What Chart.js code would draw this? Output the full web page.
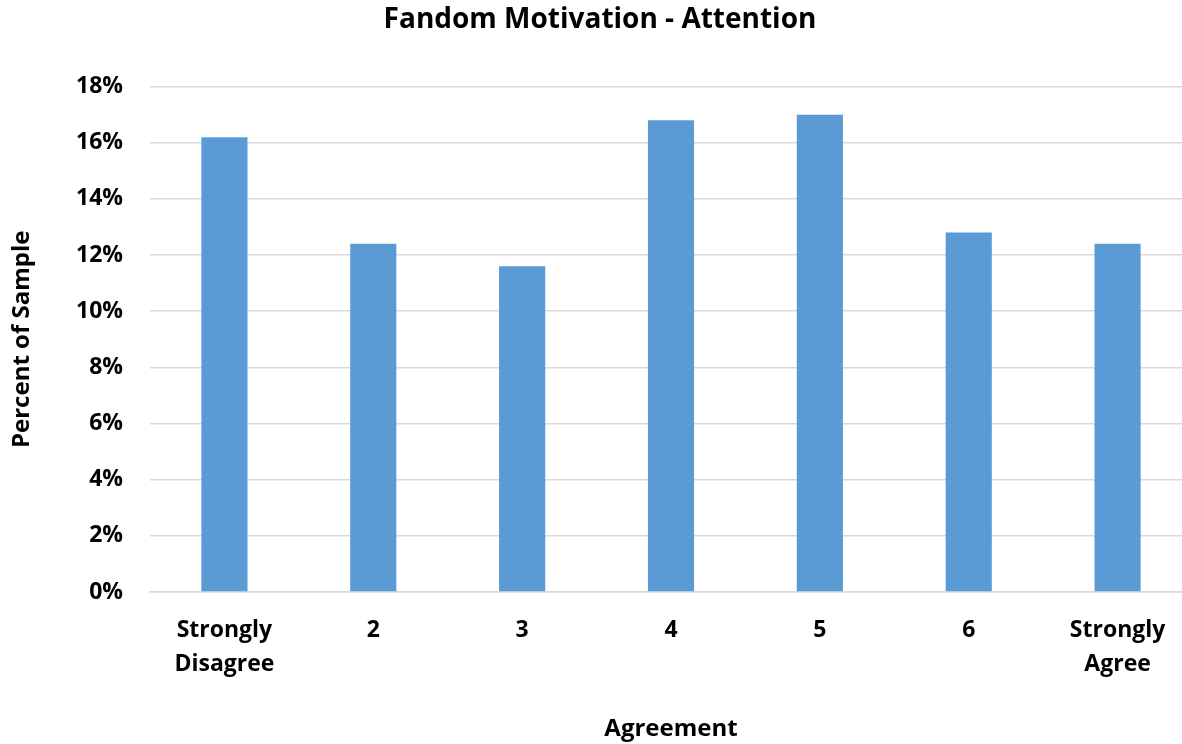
<!DOCTYPE html>
<html>
<head>
<meta charset="utf-8">
<script src="https://cdn.jsdelivr.net/npm/chart.js@4/dist/chart.umd.min.js"></script>
<style>
html,body{margin:0;padding:0;background:#fff;overflow:hidden;}
#wrap{width:1182px;height:744px;overflow:hidden;}
</style>
</head>
<body>
<div id="wrap"><canvas id="c" width="1192" height="744"></canvas></div>
<script>
const categories = [["Strongly","Disagree"], "2", "3", "4", "5", "6", ["Strongly","Agree"]];
const percentOfSample = [16.2, 12.4, 11.6, 16.8, 17.0, 12.8, 12.4];
const yTicks = [0, 2, 4, 6, 8, 10, 12, 14, 16, 18];

const FONT = "'Open Sans', 'DejaVu Sans', sans-serif";
new Chart(document.getElementById('c'), {
  type: 'bar',
  data: {
    labels: categories,
    datasets: [{
      data: percentOfSample,
      backgroundColor: '#5b9bd5',
      categoryPercentage: 1,
      barPercentage: 0.31
    }]
  },
  options: {
    responsive: false,
    animation: false,
    devicePixelRatio: 1,
    layout: { padding: { left: 8, right: 0, top: 0, bottom: 0 } },
    plugins: {
      legend: { display: false },
      tooltip: { enabled: false },
      title: {
        display: true,
        text: 'Fandom Motivation - Attention',
        color: '#000',
        font: { family: FONT, size: 28, weight: 'bold', lineHeight: 1.2 },
        padding: { top: 3, bottom: 50 }
      }
    },
    scales: {
      x: {
        grid: { display: false, drawTicks: false },
        border: { color: '#d9d9d9', width: 1.5 },
        ticks: {
          color: '#000',
          font: { family: FONT, size: 23, weight: 'bold', lineHeight: 1.45 },
          padding: 22,
          maxRotation: 0,
          autoSkip: false
        },
        title: {
          display: true,
          text: 'Agreement',
          color: '#000',
          font: { family: FONT, size: 24, weight: 'bold' },
          padding: { top: 22, bottom: 0 }
        },
        afterFit: (s) => { s.height = 152; }
      },
      y: {
        min: 0,
        max: 18,
        afterBuildTicks: (s) => { s.ticks = yTicks.map(v => ({ value: v })); },
        grid: { color: '#d9d9d9', lineWidth: 1.5, drawTicks: false },
        border: { display: false },
        ticks: {
          color: '#000',
          font: { family: FONT, size: 23, weight: 'bold' },
          padding: 27,
          callback: (v) => v + '%'
        },
        title: {
          display: true,
          text: 'Percent of Sample',
          color: '#000',
          font: { family: FONT, size: 24, weight: 'bold' },
          padding: { top: 0, bottom: 8 }
        },
        afterFit: (s) => { s.width = 142; }
      }
    }
  }
});
</script>
</body>
</html>
